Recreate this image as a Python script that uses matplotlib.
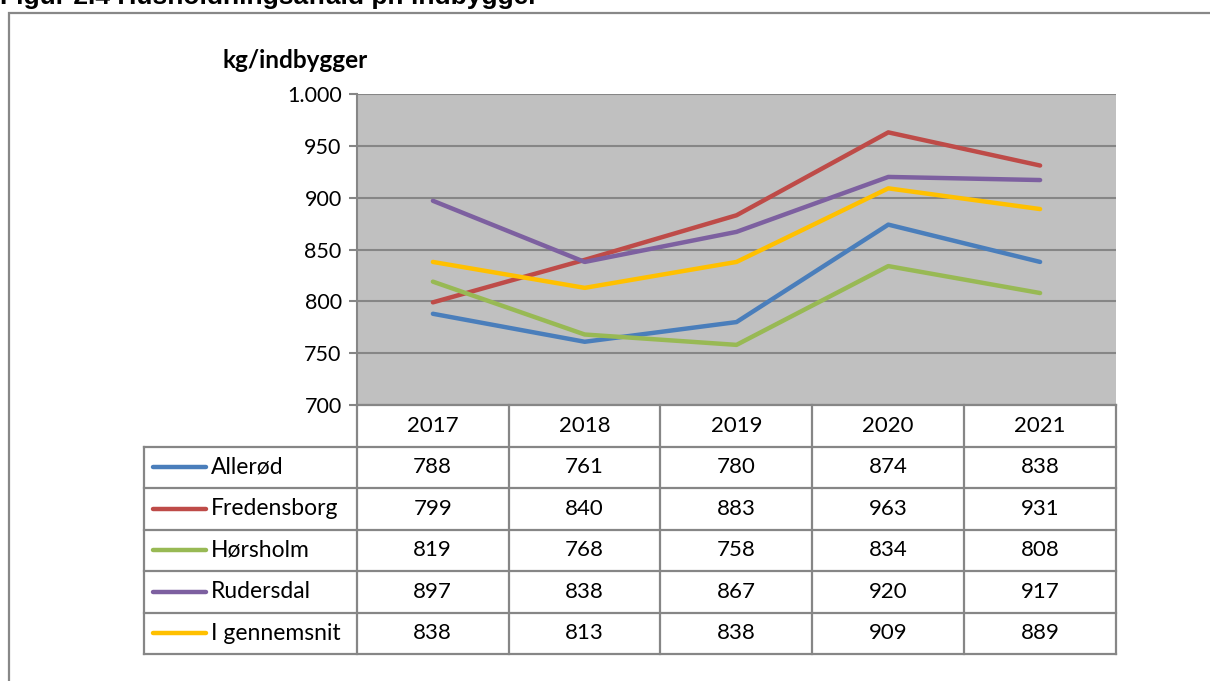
import matplotlib.pyplot as plt
from matplotlib.patches import Rectangle
from matplotlib.ticker import FuncFormatter

years = ['2017', '2018', '2019', '2020', '2021']
names = ['Allerød', 'Fredensborg', 'Hørsholm', 'Rudersdal', 'I gennemsnit']
alleroed = [788, 761, 780, 874, 838]
fredensborg = [799, 840, 883, 963, 931]
hoersholm = [819, 768, 758, 834, 808]
rudersdal = [897, 838, 867, 920, 917]
gennemsnit = [838, 813, 838, 909, 889]
series = [alleroed, fredensborg, hoersholm, rudersdal, gennemsnit]
colors = ['#4a7ebb', '#be4b48', '#98b954', '#7d60a0', '#ffc000']

W, H = 1210, 681
fig = plt.figure(figsize=(W / 100, H / 100), dpi=100)
FONT = ['Lato', 'DejaVu Sans']
GRID = '#868686'


def box(x0, y0, x1, y1):
    return [x0 / W, 1 - y1 / H, (x1 - x0) / W, (y1 - y0) / H]


# title, cut off at the top edge like in the source
fig.text(0.0, 1 - 4 / H, 'Figur 2.4 Husholdningsaffald pr. indbygger',
         family='Liberation Sans', weight='bold', fontsize=19, va='baseline', ha='left')
# outer frame
fig.add_artist(Rectangle((9 / W, -0.1), 1.2, 1 - 12.5 / H + 0.1, transform=fig.transFigure,
                         fill=False, edgecolor='#888888', lw=1.6, clip_on=False))

# chart
ax = fig.add_axes(box(357, 94, 1116, 405))
ax.set_facecolor('#c0c0c0')
x = [i + 0.5 for i in range(len(years))]
for vals, c in zip(series, colors):
    ax.plot(x, vals, color=c, lw=3.2, solid_capstyle='round', solid_joinstyle='round', zorder=3)
ax.set_xlim(0, len(years))
ax.set_ylim(700, 1000)
ax.set_yticks(range(700, 1001, 50))
ax.yaxis.set_major_formatter(FuncFormatter(lambda v, p: f'{int(v):,}'.replace(',', '.')))
ax.set_xticks([])
ax.grid(axis='y', color=GRID, lw=1.5, zorder=1)
for s in ['top', 'right', 'bottom']:
    ax.spines[s].set_visible(False)
ax.spines['left'].set_color(GRID)
ax.spines['left'].set_linewidth(1.5)
ax.tick_params(axis='y', length=6, width=1.5, color=GRID, labelsize=15.5, pad=5)
for lab in ax.get_yticklabels():
    lab.set_family(FONT)
ax.text(-0.41, 1032, 'kg/indbygger', family=FONT, weight='bold', fontsize=17.5,
        ha='center', va='center', clip_on=False)

# data table under the chart
tx = fig.add_axes(box(144, 405, 1116, 654))
lab_w = 213 / 152
tx.set_xlim(-lab_w, len(years))
tx.set_ylim(len(names) + 1, 0)
tx.axis('off')
kw = dict(color=GRID, lw=1.6, clip_on=False, solid_capstyle='projecting')
# horizontal lines
tx.plot([0, len(years)], [0, 0], **kw)
for r in range(1, len(names) + 2):
    tx.plot([-lab_w, len(years)], [r, r], **kw)
# vertical lines
tx.plot([-lab_w, -lab_w], [1, len(names) + 1], **kw)
for cidx in range(len(years) + 1):
    tx.plot([cidx, cidx], [0, len(names) + 1], **kw)
for cidx, yr in enumerate(years):
    tx.text(cidx + 0.5, 0.5, yr, ha='center', va='center', family=FONT, fontsize=16)
for r, (nm, vals, c) in enumerate(zip(names, series, colors)):
    yy = r + 1.5
    tx.plot([-lab_w + 0.06, -lab_w + 0.41], [yy, yy], color=c, lw=3.2,
            solid_capstyle='round', clip_on=False)
    tx.text(-lab_w + 0.44, yy, nm, ha='left', va='center', family=FONT, fontsize=16.5)
    for cidx, v in enumerate(vals):
        tx.text(cidx + 0.5, yy, str(v), ha='center', va='center', family=FONT, fontsize=16)

fig.savefig('out.png', dpi=100)
